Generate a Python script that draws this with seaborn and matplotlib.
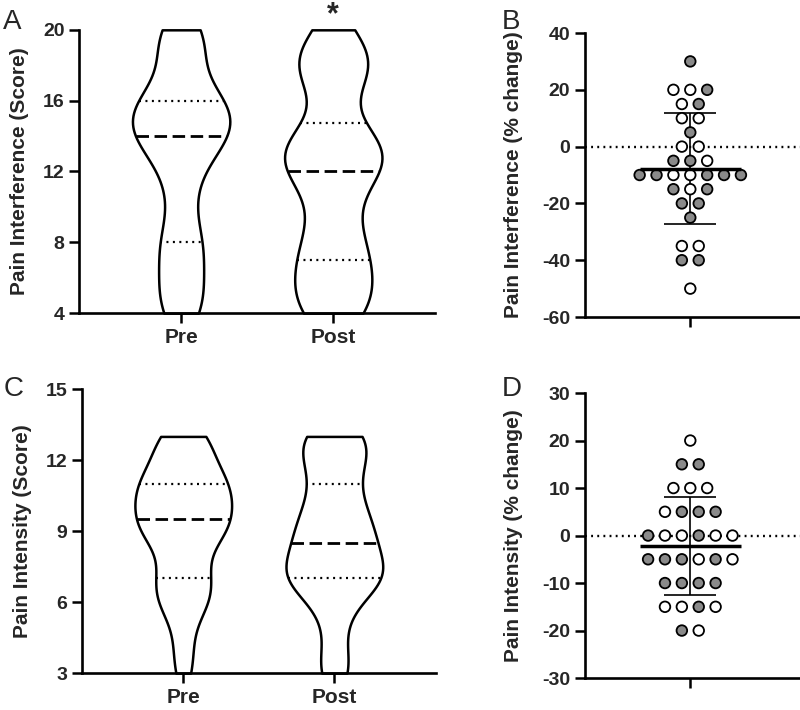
import numpy as np
import pandas as pd
import matplotlib.pyplot as plt
import seaborn as sns

# Panel A: pain interference score (4-20) before and after
interf_pre = [4, 4, 5, 5, 6, 7, 8, 8, 8, 10, 11, 12, 13, 13, 14, 14,
              14, 14, 15, 15, 15, 15, 16, 16, 16, 16, 17, 19, 19, 19, 20, 20]
interf_post = [4, 4, 4, 5, 5, 6, 6, 7, 7, 8, 8, 9, 10, 11, 12, 12,
               12, 13, 13, 13, 13, 14, 14, 14, 17, 17, 18, 18, 18, 19, 19, 20]

# Panel C: pain intensity score (3-15) before and after
inten_pre = [3, 4, 5, 6, 6, 6, 7, 7, 7, 8, 8, 9, 9, 9, 9, 9,
             10, 10, 10, 10, 10, 11, 11, 11, 11, 11, 12, 12, 12, 13, 13, 13]
inten_post = [3, 3, 4, 5, 6, 6, 7, 7, 7, 7, 7, 7, 8, 8, 8, 8,
              9, 9, 9, 9, 10, 10, 10, 11, 11, 12, 12, 12, 13, 13, 13, 13]

times = ["Pre", "Post"]

# Panel B: % change in pain interference, with group fill
interf_change = [30, 20, 20, 20, 15, 15, 10, 10, 5, 0, 0, -5, -5, -5,
                 -10, -10, -10, -10, -10, -10, -10, -15, -15, -15,
                 -20, -20, -25, -35, -35, -40, -40, -50]
interf_group = ["g", "w", "w", "g", "w", "g", "w", "w", "g", "w", "w", "g", "g", "w",
                "g", "g", "w", "w", "g", "g", "g", "g", "w", "g",
                "g", "g", "g", "w", "w", "g", "g", "w"]

# Panel D: % change in pain intensity
inten_change = [20, 15, 15, 10, 10, 10, 5, 5, 5, 5, 0, 0, 0, 0, 0, 0,
                -5, -5, -5, -5, -5, -5, -10, -10, -10, -10,
                -15, -15, -15, -15, -20, -20]
inten_group = ["w", "g", "g", "w", "w", "w", "w", "g", "g", "g",
               "g", "w", "w", "g", "w", "w",
               "g", "g", "g", "w", "g", "w", "g", "g", "g", "g",
               "w", "w", "g", "w", "g", "w"]

sns.set_style("ticks")
plt.rcParams["font.family"] = ["Liberation Sans", "DejaVu Sans"]
plt.rcParams["font.weight"] = "bold"
plt.rcParams["axes.linewidth"] = 1.9
plt.rcParams["axes.edgecolor"] = "black"

fig = plt.figure(figsize=(8, 7.1), dpi=100)


def style_axis(ax, yticks):
    sns.despine(ax=ax)
    ax.set_yticks(yticks, labels=[str(v) for v in yticks],
                  fontsize=14, fontweight="bold")
    ax.tick_params(axis="both", width=1.8, length=7, color="black")


def violin_panel(ax, pre, post, ylim, yticks, ylabel):
    df = pd.DataFrame({"time": ["Pre"] * len(pre) + ["Post"] * len(post),
                       "score": pre + post})
    sns.violinplot(data=df, x="time", y="score", order=times, ax=ax,
                   cut=0, bw_adjust=0.62, density_norm="width", width=0.64,
                   color="white", linecolor="black", linewidth=1.8,
                   inner="quart", inner_kws=dict(linewidth=1.6, color="black"))
    for c in ax.collections:
        c.set_clip_on(False)
    for i, line in enumerate(ax.lines):
        line.set_clip_on(False)
        if i % 3 == 1:
            line.set_linewidth(2.0)
            line.set_dashes((4.5, 2))
        else:
            line.set_dashes((0.9, 2.0))
    ax.set_ylim(*ylim)
    ax.set_xlim(-0.67, 1.67)
    ax.set_xticks([0, 1], labels=times, fontsize=15, fontweight="bold")
    ax.set_xlabel("")
    ax.set_ylabel(ylabel, fontsize=15, fontweight="bold", labelpad=10)
    style_axis(ax, yticks)


def scatter_panel(ax, change, group, ylim, yticks, ylabel):
    df = pd.DataFrame({"change": change, "group": group})
    # centre the points of each row like a column scatter
    rank = df.groupby("change").cumcount()
    n = df.groupby("change")["change"].transform("size")
    df["pos"] = (rank - (n - 1) / 2) * 0.08
    ax.axhline(0, color="black", linestyle=(0, (0.8, 1.8)), linewidth=1.7, zorder=1)
    m = np.mean(change)
    sd = np.std(change, ddof=1)
    ax.errorbar([0], [m], yerr=[sd], color="black", linewidth=1.2,
                capsize=19, capthick=1.2, zorder=2)
    sns.scatterplot(data=df, x="pos", y="change", hue="group",
                    palette={"g": "#8a8a8a", "w": "white"}, edgecolor="black",
                    linewidth=1.3, s=58, legend=False, ax=ax, zorder=3)
    ax.hlines(m, -0.24, 0.24, color="black", linewidth=2.5, zorder=4)
    ax.set_xlim(-0.5, 0.52)
    ax.set_xticks([0], labels=[""])
    ax.set_xlabel("")
    ax.set_ylim(*ylim)
    ax.set_ylabel(ylabel, fontsize=15, fontweight="bold", labelpad=14)
    style_axis(ax, yticks)


ax_a = fig.add_axes([0.099, 0.559, 0.445, 0.399])
violin_panel(ax_a, interf_pre, interf_post, (4, 20), [4, 8, 12, 16, 20],
             "Pain Interference (Score)")
ax_a.annotate("*", xy=(1, 20), xytext=(0, 0), textcoords="offset points",
              ha="center", va="bottom", fontsize=22, fontweight="bold")

ax_b = fig.add_axes([0.731, 0.5535, 0.269, 0.4])
scatter_panel(ax_b, interf_change, interf_group, (-60, 40), [-60, -40, -20, 0, 20, 40],
              "Pain Interference (% change)")

ax_c = fig.add_axes([0.1025, 0.052, 0.442, 0.4])
violin_panel(ax_c, inten_pre, inten_post, (3, 15), [3, 6, 9, 12, 15],
             "Pain Intensity (Score)")

ax_d = fig.add_axes([0.731, 0.045, 0.269, 0.4014])
scatter_panel(ax_d, inten_change, inten_group, (-30, 30), [-30, -20, -10, 0, 10, 20, 30],
              "Pain Intensity (% change)")

for lab, x, y in [("A", 0.004, 0.988), ("B", 0.627, 0.988),
                  ("C", 0.004, 0.47), ("D", 0.627, 0.47)]:
    fig.text(x, y, lab, fontsize=20, fontweight="normal", va="top", ha="left")

fig.savefig("out.png", dpi=100)
